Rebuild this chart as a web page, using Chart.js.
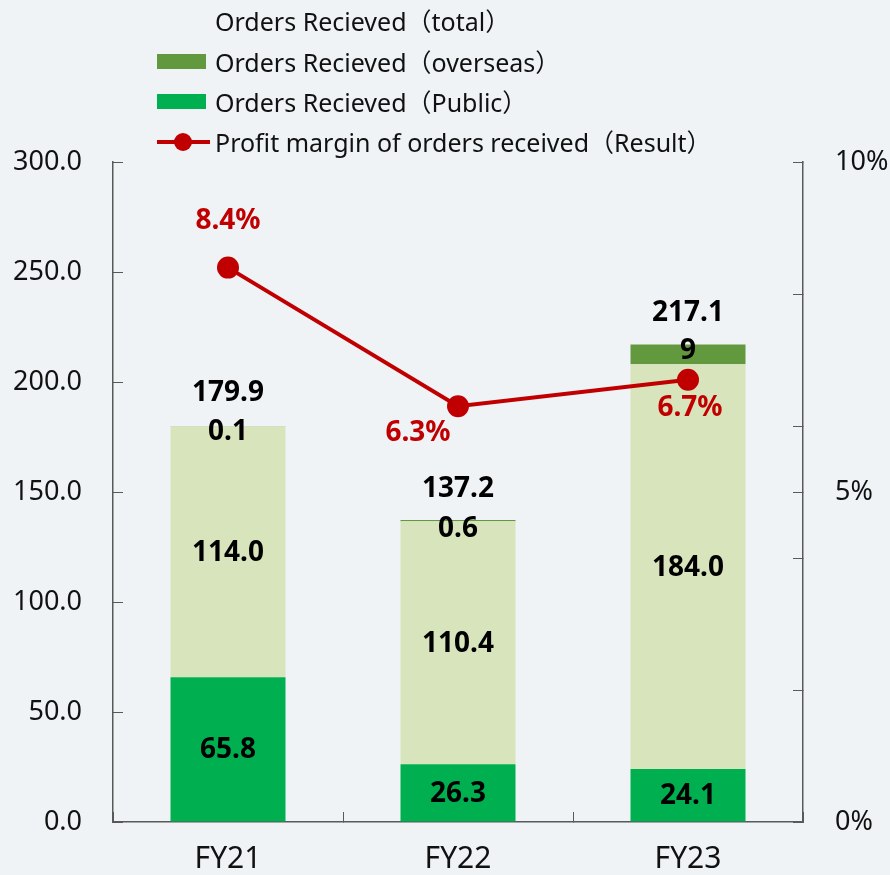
<!DOCTYPE html>
<html>
<head>
<meta charset="utf-8">
<script src="https://cdn.jsdelivr.net/npm/chart.js@4.4.1/dist/chart.umd.min.js"></script>
<style>
html,body{margin:0;padding:0;background:#eff3f6;}
#wrap{position:relative;width:890px;height:875px;overflow:hidden;}
#c{position:absolute;left:0;top:0;}
#legend{position:absolute;left:157px;top:0;font-family:"Noto Sans","Noto Sans CJK JP",sans-serif;font-size:25px;color:#111;}
.row{position:absolute;left:0;height:30px;display:flex;align-items:center;white-space:nowrap;}
.sw{width:49px;height:15px;margin-right:9px;position:relative;flex:none;}
.ln{position:absolute;left:0;top:6px;width:53px;height:4px;background:#c00000;}
.dot{position:absolute;left:17px;top:-1px;width:18px;height:18px;border-radius:50%;background:#c00000;}
</style>
</head>
<body>
<div id="wrap">
<canvas id="c" width="890" height="875"></canvas>
<div id="legend"></div>
</div>
<script>
// ---- data ----
const categories = ['FY21', 'FY22', 'FY23'];
const publicOrders = [65.8, 26.3, 24.1];
const otherOrders = [114.0, 110.4, 184.0];
const overseasOrders = [0.1, 0.6, 9];
const totalOrders = [179.9, 137.2, 217.1];
const profitMargin = [8.4, 6.3, 6.7];
const leftTicks = [0, 50, 100, 150, 200, 250, 300];
const rightTicks = [0, 2, 4, 5, 6, 8, 10];
const rightLabelled = [0, 5, 10];

const FONT = '"Noto Sans","Noto Sans CJK JP",sans-serif';
Chart.defaults.font.family = FONT;
Chart.defaults.color = '#111';

const labelPlugin = {
  id: 'valueLabels',
  afterDatasetsDraw(chart) {
    const ctx = chart.ctx;
    ctx.save();
    ctx.textAlign = 'center';
    ctx.textBaseline = 'middle';
    chart.data.datasets.forEach((ds, di) => {
      const meta = chart.getDatasetMeta(di);
      const cfg = ds.valueLabel;
      if (!cfg || meta.hidden) return;
      ctx.font = 'bold 28px ' + FONT;
      ctx.fillStyle = cfg.color || '#000';
      meta.data.forEach((el, i) => {
        const v = ds.data[i];
        const txt = cfg.format(v);
        const off = cfg.offsets ? cfg.offsets[i] : [0, 0];
        let y;
        if (cfg.mode === 'center') y = (el.y + el.base) / 2;
        else y = el.y;
        ctx.fillText(txt, el.x + off[0], y + off[1]);
      });
    });
    ctx.restore();
  }
};

function fixVertical(width) {
  return s => { s.width = width; s.paddingTop = 0; s.paddingBottom = 0; };
}

const chart = new Chart(document.getElementById('c'), {
  type: 'bar',
  data: {
    labels: categories,
    datasets: [
      {
        type: 'line',
        label: 'Profit margin of orders received（Result）',
        data: profitMargin,
        yAxisID: 'y1',
        borderColor: '#c00000',
        backgroundColor: '#c00000',
        borderWidth: 4,
        pointRadius: 9,
        pointBackgroundColor: '#c00000',
        pointBorderColor: '#c00000',
        order: 0,
        legend: 'line',
        valueLabel: { color: '#c00000', format: v => v.toFixed(1) + '%', offsets: [[0, -47], [-40, 27], [2, 28]] }
      },
      {
        type: 'line',
        label: 'Orders Recieved（total）',
        data: totalOrders,
        yAxisID: 'y',
        showLine: false,
        pointRadius: 0,
        borderColor: 'rgba(0,0,0,0)',
        backgroundColor: 'rgba(0,0,0,0)',
        order: 0,
        legend: 'none',
        valueLabel: { format: v => v.toFixed(1), offsets: [[0, -33], [0, -31], [0, -31]] }
      },
      {
        label: 'Orders Recieved（Public）',
        data: publicOrders,
        backgroundColor: '#00b050',
        order: 1,
        legend: 'box',
        valueLabel: { mode: 'center', format: v => v.toFixed(1), offsets: [[0, 1], [0, 1], [0, 1]] }
      },
      {
        label: 'Orders Recieved（other）',
        data: otherOrders,
        backgroundColor: '#d8e4bc',
        order: 1,
        valueLabel: { mode: 'center', format: v => v.toFixed(1), offsets: [[0, 1], [0, 1], [0, 1]] }
      },
      {
        label: 'Orders Recieved（overseas）',
        data: overseasOrders,
        backgroundColor: '#62993e',
        order: 1,
        legend: 'box',
        valueLabel: { mode: 'center', format: v => String(v), offsets: [[0, 6], [0, 8], [0, -3]] }
      }
    ]
  },
  options: {
    responsive: false,
    animation: false,
    layout: { padding: { top: 162, left: 0, right: 0, bottom: 0 } },
    datasets: { bar: { categoryPercentage: 1.0, barPercentage: 0.5 } },
    plugins: { legend: { display: false }, tooltip: { enabled: false } },
    scales: {
      x: {
        stacked: true,
        afterFit: s => { s.height = 53; },
        border: { display: true, color: '#595959', width: 1.5 },
        grid: { display: true, offset: true, drawOnChartArea: false, drawTicks: true, tickLength: -10, color: '#595959', tickColor: '#595959' },
        ticks: { padding: 29, font: { size: 30 }, color: '#111' }
      },
      y: {
        stacked: true,
        position: 'left',
        min: 0, max: 300,
        afterFit: fixVertical(113),
        afterBuildTicks: s => { s.ticks = leftTicks.map(v => ({ value: v })); },
        border: { display: true, color: '#595959', width: 1.5 },
        grid: { drawOnChartArea: false, drawTicks: true, tickLength: -10, tickColor: '#595959' },
        ticks: { padding: 41, font: { size: 27 }, color: '#111', autoSkip: false, callback: v => Number(v).toFixed(1) }
      },
      y1: {
        position: 'right',
        min: 0, max: 10,
        afterFit: fixVertical(87),
        afterBuildTicks: s => { s.ticks = rightTicks.map(v => ({ value: v })); },
        border: { display: true, color: '#595959', width: 1.5 },
        grid: { drawOnChartArea: false, drawTicks: true, tickLength: -10, tickColor: '#595959' },
        ticks: { padding: 42, font: { size: 27 }, color: '#111', autoSkip: false, callback: v => rightLabelled.includes(v) ? v + '%' : '' }
      }
    }
  },
  plugins: [labelPlugin]
});

// ---- HTML legend built from the chart's datasets ----
const legendOrder = ['Orders Recieved（total）', 'Orders Recieved（overseas）', 'Orders Recieved（Public）', 'Profit margin of orders received（Result）'];
const legendTops = [5, 46, 86, 126];
const legendEl = document.getElementById('legend');
legendOrder.forEach((name, i) => {
  const ds = chart.data.datasets.find(d => d.label === name);
  const row = document.createElement('div');
  row.className = 'row';
  row.style.top = legendTops[i] + 'px';
  const sw = document.createElement('div');
  sw.className = 'sw';
  if (ds.legend === 'box') sw.style.background = ds.backgroundColor;
  if (ds.legend === 'line') {
    const l = document.createElement('div'); l.className = 'ln'; l.style.background = ds.borderColor;
    const d = document.createElement('div'); d.className = 'dot'; d.style.background = ds.borderColor;
    sw.appendChild(l); sw.appendChild(d);
  }
  const t = document.createElement('span');
  t.textContent = ds.label;
  row.appendChild(sw); row.appendChild(t);
  legendEl.appendChild(row);
});
</script>
</body>
</html>
